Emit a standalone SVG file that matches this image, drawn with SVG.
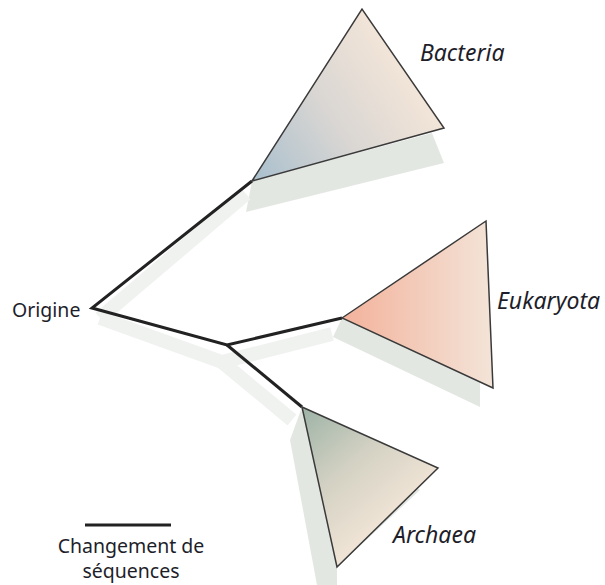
<svg xmlns="http://www.w3.org/2000/svg" width="605" height="585" viewBox="0 0 605 585">
<defs>
<linearGradient id="gB" x1="252" y1="181" x2="420" y2="70" gradientUnits="userSpaceOnUse">
<stop offset="0" stop-color="#a8bfcd"/><stop offset="0.5" stop-color="#d9d6d3"/><stop offset="1" stop-color="#f6e7d9"/>
</linearGradient>
<linearGradient id="gE" x1="342" y1="0" x2="490" y2="0" gradientUnits="userSpaceOnUse">
<stop offset="0" stop-color="#f3b29b"/><stop offset="1" stop-color="#f3e3d7"/>
</linearGradient>
<linearGradient id="gA" x1="302" y1="407" x2="400" y2="520" gradientUnits="userSpaceOnUse">
<stop offset="0" stop-color="#9cb3a6"/><stop offset="0.5" stop-color="#d3d1c3"/><stop offset="1" stop-color="#f3e6d8"/>
</linearGradient>
<style>
.tri{stroke:#3a3a3a;stroke-width:1.5;stroke-linejoin:miter}
.sh{fill:#e3e7e2}
.bsh{fill:none;stroke:#f0f2f0;stroke-width:14;stroke-linejoin:miter}
.br{fill:none;stroke:#222;stroke-width:3;stroke-linejoin:miter}
.lab{font-family:"Noto Sans","Open Sans",sans-serif;fill:#1e1e2a}
.it{font-style:italic;font-size:23px}
</style>
</defs>
<g id="shadows">
<polygon class="sh" points="252,181 432,133 444,163 246,212"/>
<polygon class="sh" points="342,318 480,370 480,407 333,337"/>
<polygon class="sh" points="302,407 290,440 317,585 337,585 337,567 420,490"/>
</g>
<g id="connectors">
<polyline class="bsh" points="100,318 222,362 332,334"/>
<polyline class="bsh" points="222,362 292,420"/>
<polyline class="bsh" points="100,318 246,194"/>
<polyline class="br" points="252,181 92,308 227,345 342,318"/>
<polyline class="br" points="227,345 302,407"/>
</g>
<g id="bacteria">
<polygon class="tri" fill="url(#gB)" points="252,181 362,9 444,128"/>
<text class="lab it" x="420" y="61">Bacteria</text>
</g>
<g id="eukaryota">
<polygon class="tri" fill="url(#gE)" points="342,318 486,221 493,388"/>
<text class="lab it" x="497" y="309">Eukaryota</text>
</g>
<g id="archaea">
<polygon class="tri" fill="url(#gA)" points="302,407 438,468 337,567"/>
<text class="lab it" x="393" y="543">Archaea</text>
</g>
<g id="origine">
<text class="lab" x="12" y="317" font-size="19.5">Origine</text>
</g>
<g id="scale">
<line x1="85" y1="525" x2="171" y2="525" stroke="#222" stroke-width="3"/>
<text class="lab" x="131" y="553" font-size="19.5" text-anchor="middle">Changement de</text>
<text class="lab" x="131" y="578" font-size="19.5" text-anchor="middle">séquences</text>
</g>
</svg>
